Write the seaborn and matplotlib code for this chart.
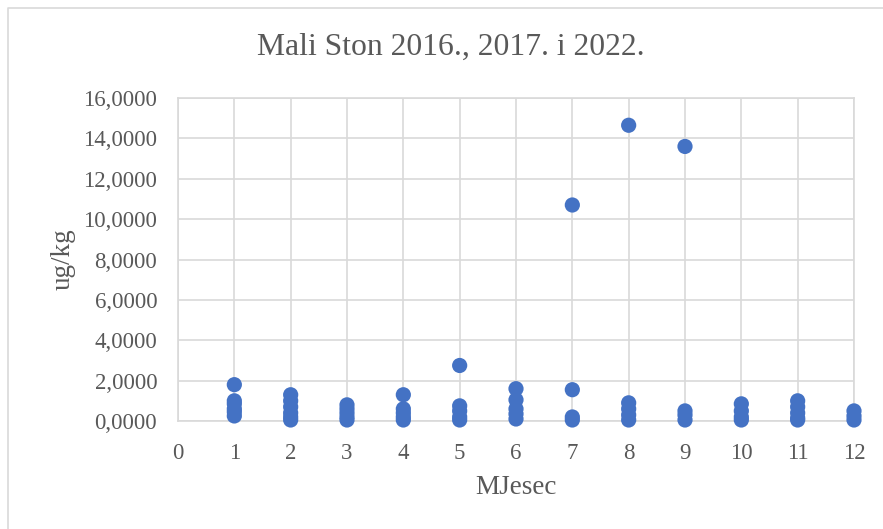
import matplotlib
matplotlib.use("Agg")
import matplotlib.pyplot as plt
from matplotlib.lines import Line2D
import pandas as pd
import seaborn as sns

# mjesec -> izmjerene vrijednosti (ug/kg)
mjeseci = [1, 2, 3, 4, 5, 6, 7, 8, 9, 10, 11, 12]
vrijednosti = [
    [1.80, 1.00, 0.85, 0.60, 0.45, 0.25],
    [1.30, 1.00, 0.70, 0.40, 0.20, 0.05],
    [0.80, 0.60, 0.40, 0.20, 0.05],
    [1.30, 0.60, 0.40, 0.20, 0.05],
    [2.75, 0.75, 0.50, 0.20, 0.05],
    [1.60, 1.05, 0.60, 0.35, 0.10],
    [10.70, 1.55, 0.20, 0.05],
    [14.65, 0.90, 0.60, 0.30, 0.05],
    [13.60, 0.50, 0.30, 0.05],
    [0.85, 0.50, 0.20, 0.05],
    [1.00, 0.70, 0.40, 0.15, 0.05],
    [0.50, 0.25, 0.05],
]
x_ticks = list(range(0, 13))
y_ticks = list(range(0, 17, 2))

naslov = "Mali Ston 2016., 2017. i 2022."
x_naziv = "MJesec"
y_naziv = "ug/kg"

TEXT = "#595959"
GRID = "#D9D9D9"
BLUE = "#4472C4"


def main():
    rows = [(m, v) for m, vals in zip(mjeseci, vrijednosti) for v in vals]
    df = pd.DataFrame(rows, columns=["mjesec", "ugkg"])

    sns.set_theme(style="white")
    plt.rcParams["font.family"] = ["Liberation Serif", "DejaVu Serif"]

    fig = plt.figure(figsize=(8.83, 5.29), dpi=100)
    ax = fig.add_axes([178 / 883, 1 - 421 / 529, (854 - 178) / 883, (421 - 98) / 529])

    sns.scatterplot(data=df, x="mjesec", y="ugkg", ax=ax, color=BLUE,
                    s=120, edgecolor="none", zorder=3, clip_on=False)

    ax.set_xlim(0, 12)
    ax.set_ylim(0, 16)
    ax.set_xticks(x_ticks)
    ax.set_yticks(y_ticks)
    ax.set_yticklabels([f"{v},0000" for v in y_ticks])
    ax.grid(True, color=GRID, linewidth=1.2)
    ax.set_axisbelow(True)
    for sp in ax.spines.values():
        sp.set_color(GRID)
        sp.set_linewidth(1.2)
    ax.tick_params(axis="both", length=0, labelsize=16.5, colors=TEXT)
    ax.tick_params(axis="x", pad=16)
    ax.tick_params(axis="y", pad=15)

    ax.set_xlabel(x_naziv, fontsize=19.5, color=TEXT, va="center")
    ax.set_ylabel(y_naziv, fontsize=19.5, color=TEXT, va="center")
    ax.xaxis.set_label_coords(0.5, -0.207)
    ax.yaxis.set_label_coords(-0.170, 0.5)
    fig.text(451 / 883, 1 - 47 / 529, naslov,
             ha="center", va="center", fontsize=22.8, color=TEXT)

    # okvir grafikona (vidljiv samo lijevo i gore)
    x0, y1 = 8 / 883, 1 - 8 / 529
    fig.lines.append(Line2D([x0, x0, 1.0], [0.0, y1, y1], transform=fig.transFigure,
                            color=GRID, linewidth=1.2))

    fig.savefig("out.png", dpi=100)
    plt.close(fig)


if __name__ == "__main__":
    main()
